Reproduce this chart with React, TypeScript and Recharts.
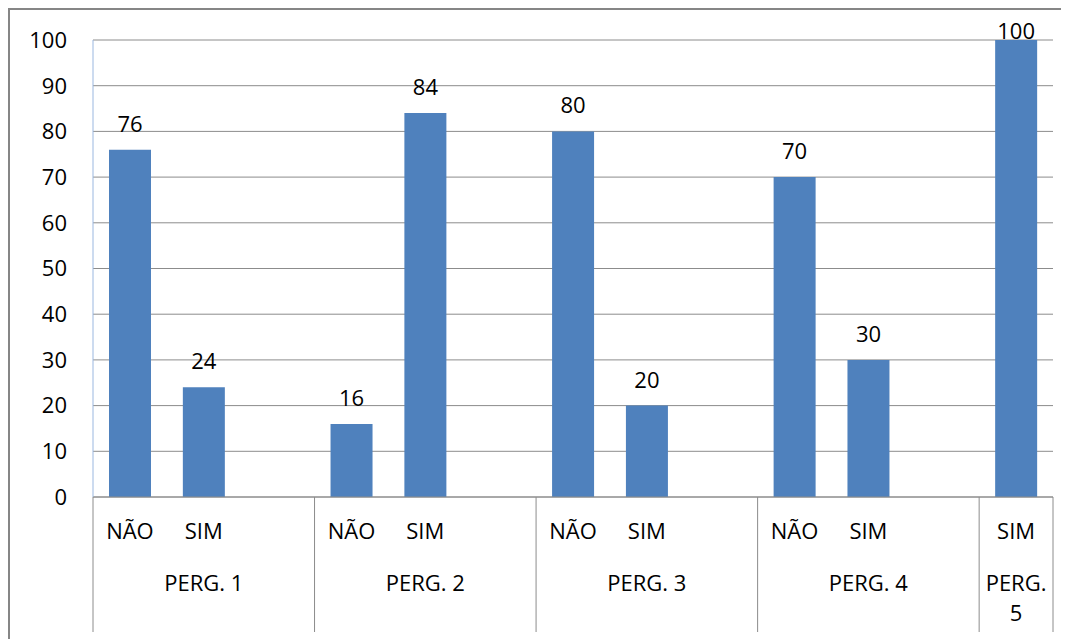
import { BarChart, Bar, XAxis, YAxis, CartesianGrid, LabelList } from "recharts";

const groups = ["PERG. 1", "PERG. 2", "PERG. 3", "PERG. 4", "PERG. 5"];
const answers = [
    ["NÃO", "SIM", ""],
    ["NÃO", "SIM", ""],
    ["NÃO", "SIM", ""],
    ["NÃO", "SIM", ""],
    ["SIM"],
];
const values = [
    [76, 24, null],
    [16, 84, null],
    [80, 20, null],
    [70, 30, null],
    [100],
];
const yTicks = [0, 10, 20, 30, 40, 50, 60, 70, 80, 90, 100];

const BAR_COLOR = "#4F81BD";
const LINE_GRAY = "#8c8c8c";
const FONT = "'Open Sans', 'Liberation Sans', sans-serif";
const FONT_SIZE = 22;

// one row per slot on the category axis (blank slot between groups)
const rows = groups.flatMap((g, gi) =>
    answers[gi].map((a, pos) => ({
        key: `${gi}-${pos}`,
        answer: a,
        group: g,
        pos,
        size: answers[gi].length,
        value: values[gi][pos],
    }))
);

function CategoryTick(props: any) {
    const { x, y, payload, index } = props;
    const row = rows[index];
    if (!row) return null;
    const half = payload?.offset ?? 37;
    const band = half * 2;
    const left = x - half;
    const isLast = index === rows.length - 1;
    const groupCenter = x - row.pos * band + (row.size - 1) * half;
    const groupLines = row.size === 1 ? row.group.split(" ") : [row.group];
    return (
        <g>
            {row.answer && (
                <text x={x} y={y + 42} textAnchor="middle" fill="#000" fontSize={FONT_SIZE} fontFamily={FONT}>
                    {row.answer}
                </text>
            )}
            {row.pos === 0 && (
                <>
                    <line x1={left} x2={left} y1={y} y2={y + 135} stroke={LINE_GRAY} strokeWidth={1} />
                    {groupLines.map((t, i) => (
                        <text
                            key={i}
                            x={groupCenter}
                            y={y + 94 + i * 30}
                            textAnchor="middle"
                            fill="#000"
                            fontSize={FONT_SIZE}
                            fontFamily={FONT}
                        >
                            {t}
                        </text>
                    ))}
                </>
            )}
            {isLast && <line x1={x + half} x2={x + half} y1={y} y2={y + 135} stroke={LINE_GRAY} strokeWidth={1} />}
        </g>
    );
}

function ValueLabel(props: any) {
    const { x, y, width, value } = props;
    if (value == null) return null;
    // keep labels inside the chart area like the original
    const ty = Math.max(y - 18, 29);
    return (
        <text x={x + width / 2} y={ty} textAnchor="middle" fill="#000" fontSize={FONT_SIZE} fontFamily={FONT}>
            {value}
        </text>
    );
}

export default function App() {
    return (
        <div
            style={{
                width: 1061,
                height: 631,
                boxSizing: "border-box",
                borderTop: "2px solid #868686",
                borderLeft: "2px solid #868686",
                background: "#fff",
            }}
        >
            <BarChart width={1059} height={629} data={rows} margin={{ top: 30, right: 16, left: 0, bottom: 0 }} barSize={42}>
                <CartesianGrid horizontal vertical={false} stroke={LINE_GRAY} strokeDasharray="" />
                <XAxis
                    dataKey="key"
                    interval={0}
                    height={142}
                    axisLine={{ stroke: LINE_GRAY }}
                    tickLine={false}
                    tickSize={0}
                    tickMargin={0}
                    tick={<CategoryTick />}
                />
                <YAxis
                    width={83}
                    domain={[0, 100]}
                    ticks={yTicks}
                    interval={0}
                    axisLine={{ stroke: "#9ab7e0" }}
                    tickLine={false}
                    tickSize={0}
                    tickMargin={26}
                    tick={{ fill: "#000", fontSize: FONT_SIZE, fontFamily: FONT }}
                />
                <Bar dataKey="value" fill={BAR_COLOR} isAnimationActive={false}>
                    <LabelList dataKey="value" content={<ValueLabel />} />
                </Bar>
            </BarChart>
        </div>
    );
}
